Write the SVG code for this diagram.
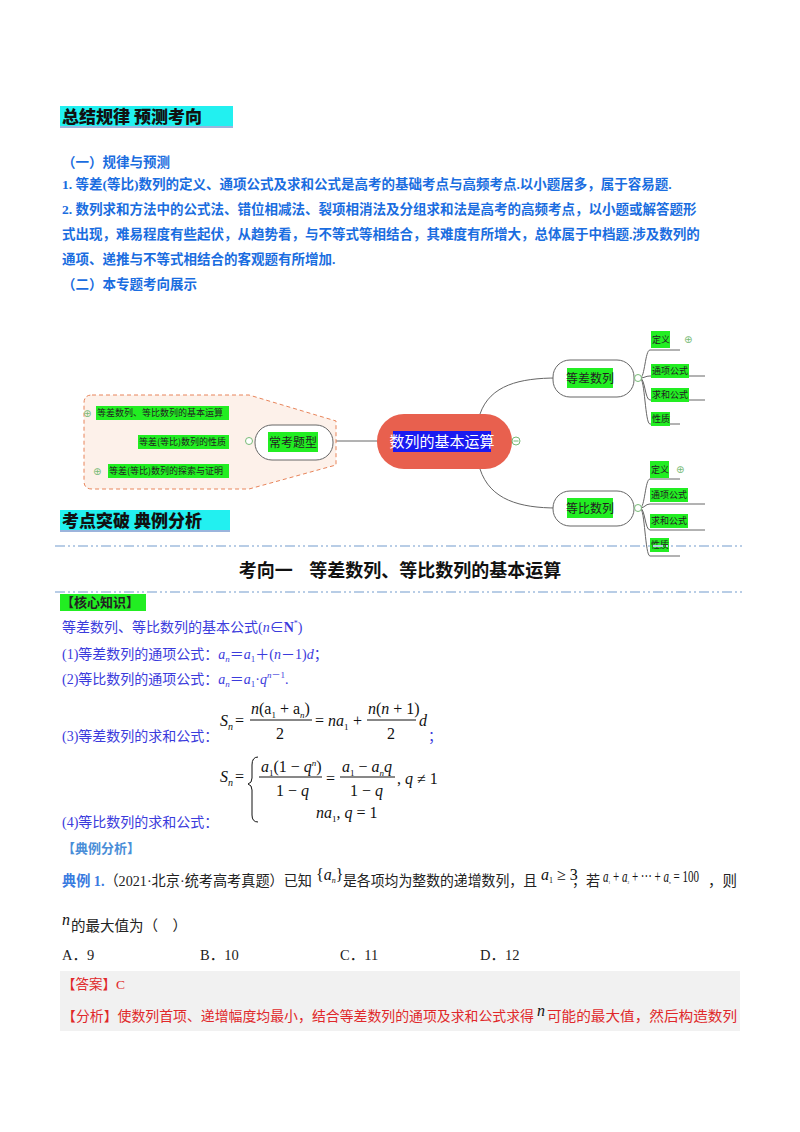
<svg xmlns="http://www.w3.org/2000/svg" width="800" height="1132" viewBox="0 0 800 1132">
<style>
.h{font-family:"Noto Sans CJK SC",sans-serif;font-weight:900;font-size:17px;fill:#111}
.b{font-family:"Liberation Serif","Noto Sans CJK SC",serif;font-weight:bold;font-size:13.5px;fill:#1a6de0}
.p{font-family:"Liberation Serif","Noto Sans CJK SC",serif;font-size:14px;fill:#3b3bdc}
.k{font-family:"Liberation Serif","Noto Sans CJK SC",serif;font-size:14.5px;fill:#222}
.r{font-family:"Liberation Serif","Noto Sans CJK SC",serif;font-size:13.5px;fill:#e0282a}
.m{font-family:"Liberation Serif",serif;font-size:16px;fill:#111}
.i{font-style:italic}
.t{font-family:"Noto Sans CJK SC",sans-serif;font-size:9px;fill:#222}
.g{fill:#22ee22}
.node{fill:#fff;stroke:#666;stroke-width:1}
.ln{fill:none;stroke:#666;stroke-width:1}
.dash{stroke:#b8cde6;stroke-width:2;stroke-dasharray:10 3 2 3 2 3}
</style>
<rect width="800" height="1132" fill="#fff"/>
<rect x="60" y="106" width="173" height="21" fill="#22f0f0"/>
<line x1="60" y1="127" x2="233" y2="127" stroke="#9cb4dc" stroke-width="2"/>
<text class="h" x="62" y="123">总结规律  预测考向</text>
<text class="b" x="62" y="167">（一）规律与预测</text>
<text class="b" x="62" y="189">1. 等差(等比)数列的定义、通项公式及求和公式是高考的基础考点与高频考点.以小题居多，属于容易题.</text>
<text class="b" x="62" y="214">2. 数列求和方法中的公式法、错位相减法、裂项相消法及分组求和法是高考的高频考点，以小题或解答题形</text>
<text class="b" x="62" y="239">式出现，难易程度有些起伏，从趋势看，与不等式等相结合，其难度有所增大，总体属于中档题.涉及数列的</text>
<text class="b" x="62" y="264">通项、递推与不等式相结合的客观题有所增加.</text>
<text class="b" x="62" y="289">（二）本专题考向展示</text>
<g id="connectors">
<path class="ln" d="M333 441 H377"/>
<path class="ln" d="M480 414 C490 385 520 378 557 378"/>
<path class="ln" d="M480 469 C490 500 520 508 557 508"/>
<path class="ln" d="M640 378 C645 378 645 350 650 350 H680 M640 378 C645 378 645 376 650 376 H705 M640 378 C645 378 645 400 650 400 H705 M640 378 C645 378 645 424 650 424 H680"/>
<path class="ln" d="M640 508 C645 508 645 479 650 479 H680 M640 508 C645 508 645 504 650 504 H705 M640 508 C645 508 645 530 650 530 H705 M640 508 C645 508 645 556 650 556 H680"/>
<path class="ln" d="M253 441 C246 441 246 422 240 422 H92 M253 441 C246 441 246 451 240 451 H160 M253 441 C246 441 246 480 240 480 H100"/>
</g>
<path d="M92 395 H249 L336 421 V465 L249 489 H92 Q84 489 84 481 V403 Q84 395 92 395Z" fill="#fdf1ea" stroke="#e8845a" stroke-dasharray="4 3"/>
<g id="center"><rect x="377" y="414" width="135" height="55" rx="27" fill="#e8604e"/><rect x="393" y="431" width="98" height="21" fill="#1a1af0"/><text x="442" y="447" text-anchor="middle" font-family="Noto Sans CJK SC,sans-serif" font-size="15" fill="#fff">数列的基本运算</text><circle cx="516" cy="441" r="4" fill="#fff" stroke="#7b7"/><line x1="513.5" y1="441" x2="518.5" y2="441" stroke="#7b7"/></g>
<g id="n-dc"><rect class="node" x="553" y="360" width="81" height="37" rx="17"/><rect class="g" x="567" y="368" width="46" height="20"/><text x="590" y="383" text-anchor="middle" font-family="Noto Sans CJK SC,sans-serif" font-size="12" fill="#222">等差数列</text></g>
<g id="n-db"><rect class="node" x="553" y="491" width="81" height="35" rx="17"/><rect class="g" x="567" y="498" width="46" height="20"/><text x="590" y="513" text-anchor="middle" font-family="Noto Sans CJK SC,sans-serif" font-size="12" fill="#222">等比数列</text></g>
<g id="n-ck"><rect class="node" x="255" y="425" width="78" height="35" rx="17"/><rect class="g" x="268" y="432" width="50" height="20"/><text x="293" y="447" text-anchor="middle" font-family="Noto Sans CJK SC,sans-serif" font-size="12" fill="#222">常考题型</text></g>
<g id="leaves">
<rect class="g" x="651" y="331" width="19" height="17"/><text class="t" x="652" y="343">定义</text><text x="684" y="343" font-size="10" fill="#7b7" font-family="DejaVu Sans">⊕</text>
<rect class="g" x="651" y="364" width="38" height="14"/><text class="t" x="652" y="374">通项公式</text>
<rect class="g" x="651" y="388" width="38" height="14"/><text class="t" x="652" y="398">求和公式</text>
<rect class="g" x="651" y="412" width="19" height="14"/><text class="t" x="652" y="422">性质</text>
<rect class="g" x="650" y="461" width="19" height="17"/><text class="t" x="651" y="473">定义</text><text x="676" y="473" font-size="10" fill="#7b7" font-family="DejaVu Sans">⊕</text>
<rect class="g" x="650" y="488" width="38" height="14"/><text class="t" x="651" y="498">通项公式</text>
<rect class="g" x="650" y="514" width="38" height="14"/><text class="t" x="651" y="524">求和公式</text>
<rect class="g" x="650" y="538" width="19" height="14"/><text class="t" x="651" y="548">性质</text>
<rect class="g" x="96" y="406" width="133" height="14"/><text class="t" x="97" y="416">等差数列、等比数列的基本运算</text><text x="83" y="417" font-size="10" fill="#7b7" font-family="DejaVu Sans">⊕</text>
<rect class="g" x="138" y="435" width="91" height="14"/><text class="t" x="139" y="445">等差(等比)数列的性质</text>
<rect class="g" x="108" y="464" width="121" height="14"/><text class="t" x="109" y="474">等差(等比)数列的探索与证明</text><text x="93" y="475" font-size="10" fill="#7b7" font-family="DejaVu Sans">⊕</text>
<circle cx="249" cy="441" r="3.5" fill="#fff" stroke="#7b7"/><circle cx="638" cy="378" r="3.5" fill="#fff" stroke="#7b7"/><circle cx="638" cy="508" r="3.5" fill="#fff" stroke="#7b7"/>
</g>
<rect x="60" y="510" width="170" height="21" fill="#22f0f0"/>
<line x1="60" y1="531" x2="230" y2="531" stroke="#9cb4dc" stroke-width="2"/>
<text class="h" x="62" y="527">考点突破  典例分析</text>
<line class="dash" x1="55" y1="546" x2="745" y2="546"/>
<text x="400" y="577" text-anchor="middle" font-family="Noto Sans CJK SC,sans-serif" font-weight="bold" font-size="18" fill="#111" xml:space="preserve">考向一    等差数列、等比数列的基本运算</text>
<line class="dash" x1="55" y1="592" x2="745" y2="592"/>
<rect x="60" y="594" width="86" height="17" fill="#22ee22"/>
<text x="61" y="607" font-family="Noto Sans CJK SC,sans-serif" font-weight="bold" font-size="13" fill="#222">【核心知识】</text>
<text class="p" x="62" y="632">等差数列、等比数列的基本公式(<tspan class="i">n</tspan>∈<tspan font-weight="bold">N</tspan><tspan font-size="8" dy="-6">*</tspan><tspan dy="6">)</tspan></text>
<text class="p" x="62" y="659">(1)等差数列的通项公式：<tspan class="i">a<tspan font-size="9" dy="3">n</tspan></tspan><tspan dy="-3">＝</tspan><tspan class="i">a</tspan><tspan font-size="9" dy="3">1</tspan><tspan dy="-3">＋(</tspan><tspan class="i">n</tspan>－1)<tspan class="i">d</tspan>；</text>
<text class="p" x="62" y="684">(2)等比数列的通项公式：<tspan class="i">a<tspan font-size="9" dy="3">n</tspan></tspan><tspan dy="-3">＝</tspan><tspan class="i">a</tspan><tspan font-size="9" dy="3">1</tspan><tspan dy="-3">·</tspan><tspan class="i">q</tspan><tspan font-size="9" dy="-6" class="i">n</tspan><tspan font-size="9">－1</tspan><tspan dy="6">.</tspan></text>
<text class="p" x="62" y="741">(3)等差数列的求和公式：</text>
<g id="f3">
<text class="m" x="220" y="726"><tspan class="i">S</tspan><tspan font-size="10" dy="4" class="i">n</tspan></text>
<text class="m" x="235" y="726">=</text>
<text class="m" x="251" y="714"><tspan class="i">n</tspan>(a<tspan font-size="9" dy="4">1</tspan><tspan dy="-4"> + a</tspan><tspan font-size="9" dy="4" class="i">n</tspan><tspan dy="-4">)</tspan></text>
<line x1="250" y1="720" x2="312" y2="720" stroke="#111"/>
<text class="m" x="276" y="739">2</text>
<text class="m" x="315" y="726">=</text>
<text class="m" x="328" y="726"><tspan class="i">na</tspan><tspan font-size="9" dy="4">1</tspan></text>
<text class="m" x="353" y="726">+</text>
<text class="m" x="368" y="714"><tspan class="i">n</tspan>(<tspan class="i">n</tspan> + 1)</text>
<line x1="367" y1="720" x2="416" y2="720" stroke="#111"/>
<text class="m" x="387" y="739">2</text>
<text class="m i" x="419" y="726">d</text>
</g>
<text class="p" x="428" y="741">；</text>
<text class="p" x="62" y="827">(4)等比数列的求和公式：</text>
<g id="f4">
<text class="m" x="220" y="782"><tspan class="i">S</tspan><tspan font-size="10" dy="4" class="i">n</tspan></text>
<text class="m" x="235" y="782">=</text>
<path d="M258 757 Q252 757 252 765 V778 Q252 783 248 784 Q252 785 252 790 V815 Q252 822 258 822" fill="none" stroke="#111"/>
<text class="m" x="261" y="772"><tspan class="i">a</tspan><tspan font-size="9" dy="4">1</tspan><tspan dy="-4">(1 − </tspan><tspan class="i">q</tspan><tspan font-size="9" dy="-6" class="i">n</tspan><tspan dy="6">)</tspan></text>
<line x1="259" y1="777" x2="322" y2="777" stroke="#111"/>
<text class="m" x="276" y="796">1 − <tspan class="i">q</tspan></text>
<text class="m" x="326" y="784">=</text>
<text class="m" x="342" y="772"><tspan class="i">a</tspan><tspan font-size="9" dy="4">1</tspan><tspan dy="-4"> − </tspan><tspan class="i">a</tspan><tspan font-size="9" dy="4" class="i">n</tspan><tspan dy="-4" class="i">q</tspan></text>
<line x1="340" y1="777" x2="395" y2="777" stroke="#111"/>
<text class="m" x="350" y="796">1 − <tspan class="i">q</tspan></text>
<text class="m" x="397" y="784">, <tspan class="i">q</tspan> ≠ 1</text>
<text class="m" x="316" y="818"><tspan class="i">na</tspan><tspan font-size="9" dy="4">1</tspan><tspan dy="-4">, </tspan><tspan class="i">q</tspan> = 1</text>
</g>
<text x="62" y="853" font-family="Noto Sans CJK SC,sans-serif" font-weight="bold" font-size="13" fill="#4a8ed8">【典例分析】</text>
<text class="k" x="62" y="886" textLength="250" lengthAdjust="spacingAndGlyphs"><tspan fill="#3a7be0" font-weight="bold">典例 1.</tspan>（2021·北京·统考高考真题）已知</text>
<text class="m" x="316" y="880" font-size="13">{<tspan class="i">a</tspan><tspan font-size="8" dy="3" class="i">n</tspan><tspan dy="-3">}</tspan></text>
<text class="k" x="343" y="886" textLength="194" lengthAdjust="spacingAndGlyphs">是各项均为整数的递增数列，且</text>
<text class="m" x="541" y="880" font-size="13"><tspan class="i">a</tspan><tspan font-size="8" dy="3">1</tspan><tspan dy="-3"> ≥ 3</tspan></text>
<text class="k" x="572" y="886" textLength="28" lengthAdjust="spacingAndGlyphs">，若</text>
<text class="m" x="603" y="882" font-size="8" textLength="96" lengthAdjust="spacingAndGlyphs"><tspan class="i">a</tspan><tspan font-size="5" dy="2">1</tspan><tspan dy="-2"> + </tspan><tspan class="i">a</tspan><tspan font-size="5" dy="2">2</tspan><tspan dy="-2"> + ··· + </tspan><tspan class="i">a</tspan><tspan font-size="5" dy="2" class="i">n</tspan><tspan dy="-2"> = 100</tspan></text>
<text class="k" x="708" y="886">，则</text>
<text class="m i" x="62" y="925" font-size="15">n</text>
<text class="k" x="71" y="931" xml:space="preserve">的最大值为（    ）</text>
<text class="k" x="62" y="960">A．9</text>
<text class="k" x="200" y="960">B．10</text>
<text class="k" x="340" y="960">C．11</text>
<text class="k" x="480" y="960">D．12</text>
<rect x="60" y="971" width="680" height="60" fill="#f1f1f1"/>
<text class="r" x="62" y="989">【答案】C</text>
<text class="r" x="62" y="1021" textLength="472" lengthAdjust="spacingAndGlyphs">【分析】使数列首项、递增幅度均最小，结合等差数列的通项及求和公式求得</text>
<text class="m i" x="537" y="1016" font-size="15">n</text>
<text class="r" x="547" y="1021" textLength="190" lengthAdjust="spacingAndGlyphs">可能的最大值，然后构造数列</text>
</svg>
